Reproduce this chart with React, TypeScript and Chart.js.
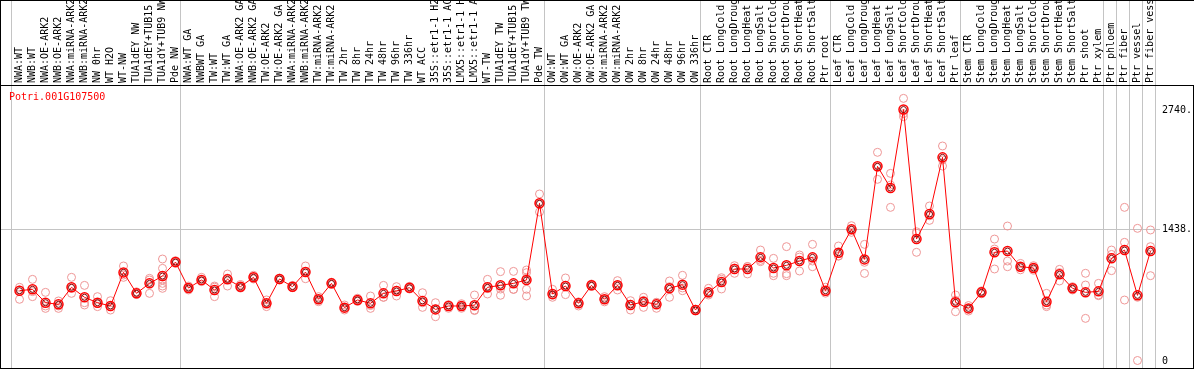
import React, { useEffect, useRef } from "react";
import { Chart, registerables } from "chart.js";

Chart.register(...registerables);

const TITLE = "Potri.001G107500";

const categories: string[] = [
  "NWA:WT", "NWB:WT", "NWA:OE-ARK2", "NWB:OE-ARK2", "NWA:miRNA-ARK2", "NWB:miRNA-ARK2",
  "NW 0hr", "WT H2O", "WT-NW", "TUA1dEY NW", "TUA1dEY+TUB15 NW", "TUA1dY+TUB9 NW", "Pde NW",
  "NWA:WT GA", "NWBWT GA", "TW:WT", "TW:WT GA", "NWA:OE-ARK2 GA", "NWB:OE-ARK2 GA",
  "TW:OE-ARK2", "TW:OE-ARK2 GA", "NWA:miRNA-ARK2 GA", "NWB:miRNA-ARK2 GA", "TW:miRNA-ARK2",
  "TW:miRNA-ARK2 GA", "TW 2hr", "TW 8hr", "TW 24hr", "TW 48hr", "TW 96hr", "TW 336hr",
  "WT ACC", "35S::etr1-1 H2O", "35S::etr1-1 ACC", "LMX5::etr1-1 H2O", "LMX5::etr1-1 ACC",
  "WT-TW", "TUA1dEY TW", "TUA1dEY+TUB15 TW", "TUA1dY+TUB9 TW", "Pde TW",
  "OW:WT", "OW:WT GA", "OW:OE-ARK2", "OW:OE-ARK2 GA", "OW:miRNA-ARK2", "OW:miRNA-ARK2 GA",
  "OW 2hr", "OW 8hr", "OW 24hr", "OW 48hr", "OW 96hr", "OW 336hr",
  "Root CTR", "Root LongCold", "Root LongDrought", "Root LongHeat", "Root LongSalt",
  "Root ShortCold", "Root ShortDrought", "Root ShortHeat", "Root ShortSalt", "Ptr root",
  "Leaf CTR", "Leaf LongCold", "Leaf LongDrought", "Leaf LongHeat", "Leaf LongSalt",
  "Leaf ShortCold", "Leaf ShortDrought", "Leaf ShortHeat", "Leaf ShortSalt", "Ptr leaf",
  "Stem CTR", "Stem LongCold", "Stem LongDrought", "Stem LongHeat", "Stem LongSalt",
  "Stem ShortCold", "Stem ShortDrought", "Stem ShortHeat", "Stem ShortSalt", "Ptr shoot",
  "Ptr xylem", "Ptr phloem", "Ptr fiber", "Ptr vessel", "Ptr fiber vessel",
];

const means: number[] = [
  762, 777, 631, 613, 799, 690, 631, 595, 962, 733,
  842, 922, 1075, 791, 879, 770, 886, 806, 908, 624,
  890, 806, 966, 668, 842, 577, 661, 624, 733, 759,
  795, 650, 558, 595, 595, 604, 799, 821, 842, 879,
  1716, 726, 813, 624, 821, 668, 821, 606, 642, 613,
  788, 828, 551, 744, 857, 999, 999, 1126, 1010, 1039,
  1086, 1126, 762, 1177, 1432, 1104, 2120, 1883, 2740, 1326,
  1599, 2218, 635, 569, 744, 1181, 1195, 1024, 1010, 642,
  941, 788, 744, 755, 1115, 1206, 711, 1195,
];

const replicates: number[][] = [
  [799, 770, 668], [886, 752, 697], [744, 595, 569], [650, 595, 569], [908, 788, 733],
  [820, 631, 606], [697, 624, 588], [653, 588, 551], [1032, 933, 908], [750, 733, 720],
  [897, 879, 733], [1108, 1006, 879, 842, 813, 788], [1090, 1075, 1060], [813, 770, 790], [908, 861, 870],
  [813, 697, 800], [944, 813, 900], [830, 806, 790], [930, 908, 890], [661, 588, 624],
  [900, 890, 880], [820, 806, 795], [1032, 893, 970], [697, 642, 668], [855, 842, 830],
  [606, 551, 577], [680, 645, 661], [704, 569, 600], [820, 690, 690], [806, 704, 767],
  [810, 795, 780], [740, 580, 630], [631, 478, 565], [610, 570, 605], [620, 570, 595],
  [715, 551, 545], [886, 726, 785], [970, 712, 780], [973, 777, 776], [988, 959, 900, 777, 704],
  [1818, 1621, 1710], [777, 690, 711], [901, 719, 820], [640, 595, 637], [835, 821, 808],
  [697, 640, 668], [872, 770, 821], [653, 551, 614], [690, 580, 656], [635, 570, 634],
  [868, 690, 806], [930, 762, 792], [560, 551, 542], [788, 715, 730], [904, 781, 886],
  [1035, 952, 1010], [1025, 945, 1027], [1206, 1079, 1093], [1115, 952, 926], [1243, 948, 926],
  [1152, 977, 1129], [1268, 1024, 1086], [800, 735, 751], [1250, 1141, 1140], [1472, 1399, 1425],
  [1268, 1072, 951], [2273, 1978, 2110], [2043, 1916, 1672], [2862, 2662, 2696], [1406, 1181, 1390],
  [1687, 1530, 1580], [2342, 2123, 2190], [715, 533, 657], [600, 540, 567], [760, 744, 728],
  [1326, 1217, 999], [1468, 1086, 1024], [1060, 990, 1022], [1035, 985, 1010], [733, 588, 605],
  [995, 868, 960], [806, 770, 788], [952, 824, 460], [842, 708, 715], [1206, 981, 1158],
  [1672, 1290, 660], [1443, 690, 0], [1425, 1243, 926],
];

// index of first category in each group (separator lines drawn before them), plus end
const groupStarts: number[] = [0, 13, 41, 53, 63, 73, 84, 85, 86, 87, 88];
const yTicks: number[] = [0, 1438, 2740];
const yTickLabels: string[] = ["0", "1438.", "2740."];
const gridValues: number[] = [1438];

const MONO = "10px 'DejaVu Sans Mono', 'Liberation Mono', monospace";

const decorPlugin = {
  id: "decor",
  beforeDatasetsDraw(chart: any) {
    const { ctx, chartArea } = chart;
    const xs = chart.scales.x;
    const ys = chart.scales.y;
    ctx.save();
    ctx.strokeStyle = "#c4c4c4";
    ctx.lineWidth = 1;
    for (const g of gridValues) {
      const py = Math.round(ys.getPixelForValue(g)) + 0.5;
      ctx.beginPath();
      ctx.moveTo(0, py);
      ctx.lineTo(chartArea.right - 34, py);
      ctx.stroke();
    }
    for (const s of groupStarts) {
      const px = Math.round(xs.getPixelForValue(s - 0.65)) + 0.5;
      ctx.beginPath();
      ctx.moveTo(px, 0);
      ctx.lineTo(px, chartArea.bottom);
      ctx.stroke();
    }
    ctx.restore();
  },
  afterDraw(chart: any) {
    const { ctx, chartArea } = chart;
    const xs = chart.scales.x;
    const ys = chart.scales.y;
    ctx.save();
    ctx.font = MONO;
    ctx.fillStyle = "#000";
    ctx.textAlign = "left";
    ctx.textBaseline = "middle";
    categories.forEach((c, i) => {
      ctx.save();
      ctx.translate(xs.getPixelForValue(i), chartArea.top - 2);
      ctx.rotate(-Math.PI / 2);
      ctx.fillText(c, 0, 0);
      ctx.restore();
    });
    ctx.fillStyle = "#ff0000";
    ctx.fillText(TITLE, 9, chartArea.top + 12);
    ctx.fillStyle = "#000";
    yTicks.forEach((t, k) => {
      ctx.fillText(yTickLabels[k], chartArea.right - 32, ys.getPixelForValue(t) + 1);
    });
    const W = chart.width;
    ctx.fillRect(0, 0, W, 1);
    ctx.fillRect(0, chartArea.top, W, 1);
    ctx.fillRect(0, 0, 1, chartArea.bottom + 1);
    ctx.fillRect(0, chartArea.bottom, W - 1, 1);
    ctx.fillRect(W - 1, chartArea.top, 1, chartArea.bottom - chartArea.top + 1);
    ctx.restore();
  },
};

export default function App() {
  const ref = useRef<HTMLCanvasElement | null>(null);

  useEffect(() => {
    document.body.style.margin = "0";
    const canvas = ref.current;
    if (!canvas) return;

    const meanPts = means.map((v, i) => ({ x: i, y: v }));
    const repPts: { x: number; y: number }[] = [];
    replicates.forEach((arr, i) => arr.forEach((v) => repPts.push({ x: i, y: v })));

    const chart = new Chart(canvas, {
      type: "line",
      data: {
        datasets: [
          {
            data: meanPts,
            showLine: false,
            pointRadius: 3,
            pointBorderWidth: 1,
            pointBorderColor: "#7a0000",
            pointBackgroundColor: "rgba(0,0,0,0)",
            order: 1,
          },
          {
            data: meanPts,
            borderColor: "#ff0000",
            borderWidth: 1,
            pointRadius: 4.5,
            pointBorderWidth: 1.5,
            pointBorderColor: "#ff0000",
            pointBackgroundColor: "rgba(0,0,0,0)",
            tension: 0,
            order: 2,
          },
          {
            data: repPts,
            showLine: false,
            pointRadius: 4,
            pointBorderWidth: 1,
            pointBorderColor: "rgb(238,150,150)",
            pointBackgroundColor: "rgba(0,0,0,0)",
            order: 3,
          },
        ],
      },
      options: {
        animation: false,
        responsive: false,
        devicePixelRatio: 1,
        layout: { autoPadding: false, padding: { top: 85, bottom: 2, left: 0, right: 0 } },
        plugins: { legend: { display: false }, tooltip: { enabled: false }, title: { display: false } },
        scales: {
          x: { type: "linear", min: -1.5, max: 90.346, display: false },
          y: { type: "linear", min: -82, max: 3008, display: false },
        },
      },
      plugins: [decorPlugin],
    } as any);

    return () => chart.destroy();
  }, []);

  return <canvas ref={ref} width={1194} height={370} style={{ display: "block" }} />;
}
